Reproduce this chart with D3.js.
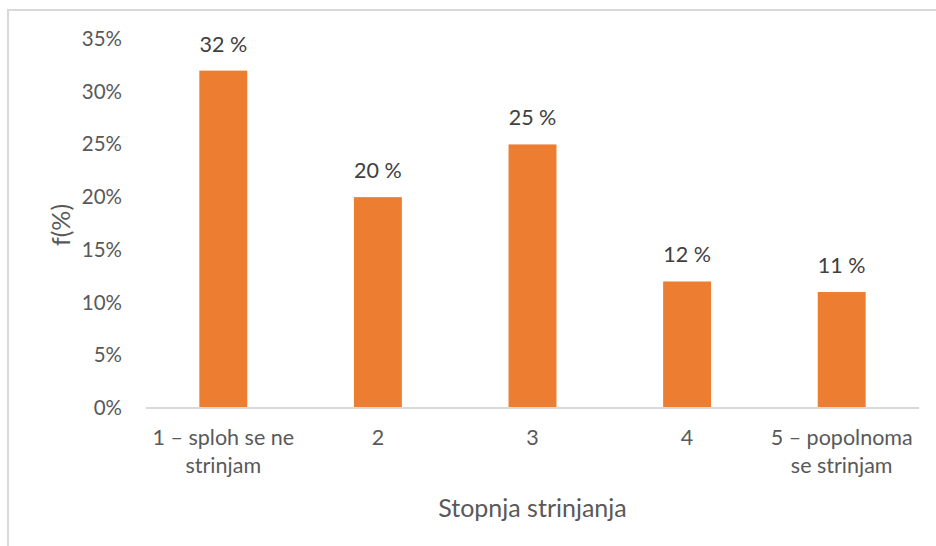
<!DOCTYPE html>
<html>
<head>
<meta charset="utf-8">
<script src="https://cdn.jsdelivr.net/npm/d3@7"></script>
<style>
  html, body { margin: 0; padding: 0; background: #fff; }
  svg { display: block; }
  text { font-family: Lato, "Open Sans", sans-serif; }
</style>
</head>
<body>
<svg id="chart" width="936" height="546"></svg>
<script>
const categories = ["1 – sploh se ne strinjam", "2", "3", "4", "5 – popolnoma se strinjam"];
const categoryLines = [["1 – sploh se ne", "strinjam"], ["2"], ["3"], ["4"], ["5 – popolnoma", "se strinjam"]];
const values = [32, 20, 25, 12, 11];
const valueLabels = ["32 %", "20 %", "25 %", "12 %", "11 %"];
const yTicks = [0, 5, 10, 15, 20, 25, 30, 35];
const xTitle = "Stopnja strinjanja";
const yTitle = "f(%)";

(function () {
const svg = d3.select("#chart");
const W = 936, H = 546;

// chart border
svg.append("rect")
  .attr("x", 8).attr("y", 10)
  .attr("width", W).attr("height", H)
  .attr("fill", "none")
  .attr("stroke", "#d9d9d9")
  .attr("stroke-width", 2);

const plotLeft = 146, plotRight = 919, plotTop = 39, plotBottom = 408;

const x = d3.scaleBand()
  .domain(categories)
  .range([plotLeft, plotRight])
  .paddingInner(0.69)
  .paddingOuter(0.345);

const y = d3.scaleLinear().domain([0, 35]).range([plotBottom, plotTop]);

// bars
svg.append("g").selectAll("rect")
  .data(values)
  .join("rect")
  .attr("x", (d, i) => x(categories[i]))
  .attr("y", d => y(d))
  .attr("width", x.bandwidth())
  .attr("height", d => y(0) - y(d))
  .attr("fill", "#ED7D31");

// baseline
svg.append("line")
  .attr("x1", plotLeft).attr("x2", plotRight)
  .attr("y1", y(0)).attr("y2", y(0))
  .attr("stroke", "#d9d9d9").attr("stroke-width", 2);

// y axis (labels only)
const yAxis = d3.axisLeft(y).tickValues(yTicks).tickFormat(d => d + "%").tickSize(0).tickPadding(0);
const yg = svg.append("g").attr("transform", `translate(122,0)`).call(yAxis);
yg.select(".domain").remove();
yg.selectAll("text")
  .attr("fill", "#595959")
  .style("font-size", "20.5px")
  .style("font-family", "Lato, sans-serif");

// x axis labels
const xg = svg.append("g");
categoryLines.forEach((lines, i) => {
  const cx = x(categories[i]) + x.bandwidth() / 2;
  const t = xg.append("text")
    .attr("x", cx).attr("y", 445)
    .attr("text-anchor", "middle")
    .attr("fill", "#595959")
    .style("font-size", "21.5px");
  lines.forEach((ln, j) => {
    t.append("tspan").attr("x", cx).attr("dy", j === 0 ? 0 : 28).text(ln);
  });
});

// data labels
svg.append("g").selectAll("text")
  .data(values)
  .join("text")
  .attr("x", (d, i) => x(categories[i]) + x.bandwidth() / 2)
  .attr("y", d => y(d) - 19)
  .attr("text-anchor", "middle")
  .attr("fill", "#404040")
  .style("font-size", "21.5px")
  .text((d, i) => valueLabels[i]);

// axis titles
svg.append("text")
  .attr("x", (plotLeft + plotRight) / 2).attr("y", 517)
  .attr("text-anchor", "middle")
  .attr("fill", "#595959")
  .style("font-size", "25px")
  .text(xTitle);

svg.append("text")
  .attr("transform", `translate(70,225) rotate(-90)`)
  .attr("text-anchor", "middle")
  .attr("fill", "#595959")
  .style("font-size", "25px")
  .text(yTitle);
})();
</script>
</body>
</html>
